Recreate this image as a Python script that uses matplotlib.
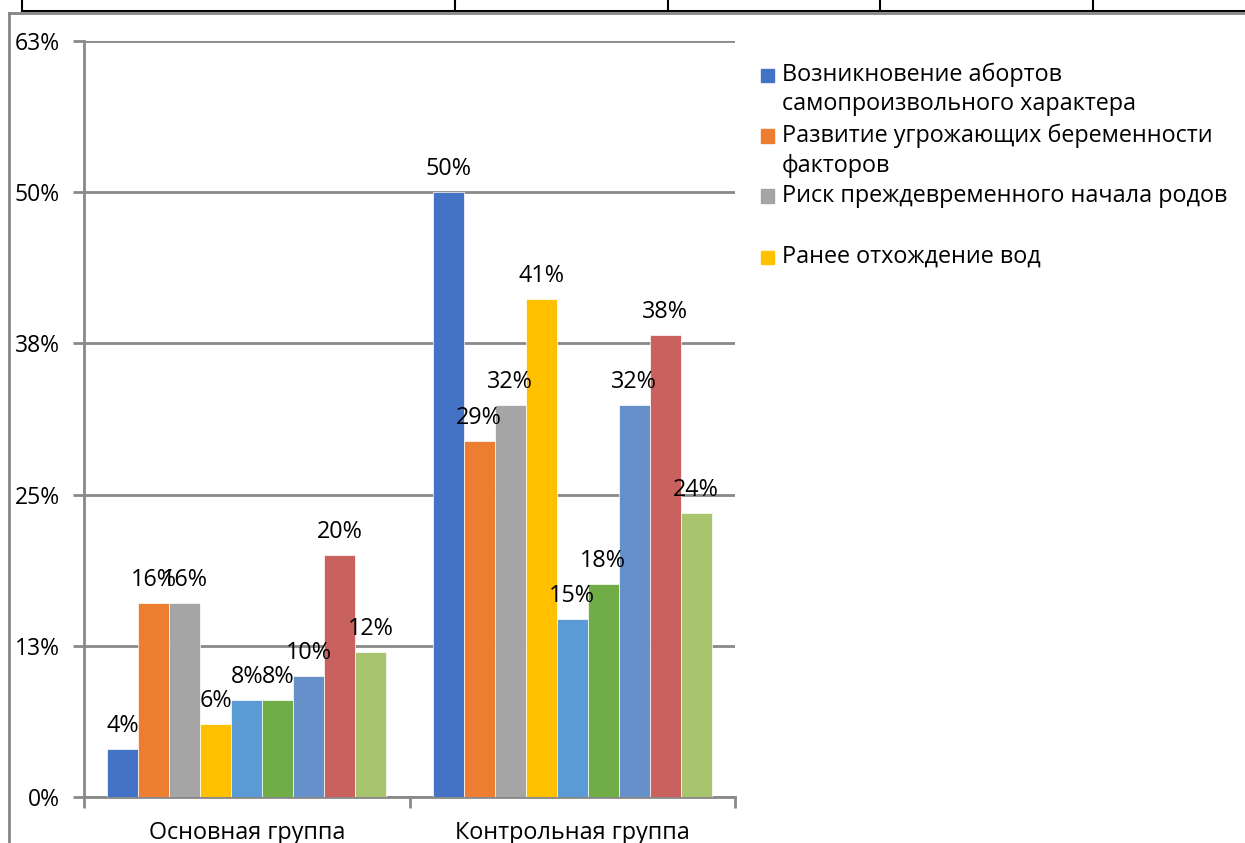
import matplotlib
matplotlib.use("Agg")
import matplotlib.pyplot as plt
from matplotlib.patches import Rectangle
from matplotlib.lines import Line2D

plt.rcParams['font.family'] = ['Open Sans', 'DejaVu Sans']

categories = ["Основная группа", "Контрольная группа"]
series_names = [
    "Возникновение абортов\nсамопроизвольного характера",
    "Развитие угрожающих беременности\nфакторов",
    "Риск преждевременного начала родов",
    "Ранее отхождение вод",
    "", "", "", "", "",
]
colors = ["#4472C4", "#ED7D31", "#A5A5A5", "#FFC000", "#5B9BD5",
          "#70AD47", "#6690C9", "#C9615F", "#A8C46C"]
# values (%) per series: [Основная, Контрольная]
s1 = [4, 50.0]
s2 = [16, 29.4]
s3 = [16, 32.4]
s4 = [6, 41.2]
s5 = [8, 14.7]
s6 = [8, 17.6]
s7 = [10, 32.4]
s8 = [20, 38.2]
s9 = [12, 23.5]
series = [s1, s2, s3, s4, s5, s6, s7, s8, s9]

yticks = [0, 12.5, 25, 37.5, 50, 62.5]
yticklabels = ["0%", "13%", "25%", "38%", "50%", "63%"]

W, H = 1245, 843
FS = 16.8
fig = plt.figure(figsize=(W / 100, H / 100), dpi=100)

def fx(px):
    return px / W

def fy(py):
    return 1 - py / H

ax = fig.add_axes([fx(84), fy(797), fx(735) - fx(84), fy(41) - fy(797)])
n = len(series)
bw = 1.0 / (n + 1.5)
grid_c = "#898989"
for i, vals in enumerate(series):
    xs = [c + (i - (n - 1) / 2) * bw for c in range(len(categories))]
    ax.bar(xs, vals, width=bw, color=colors[i], edgecolor="white",
           linewidth=0.5, zorder=3)
    for x, v in zip(xs, vals):
        ax.annotate(f"{round(v):.0f}%", (x, v), xytext=(0, 11),
                    textcoords="offset pixels", ha="center", va="bottom",
                    fontsize=FS, color="black", zorder=4)

ax.set_xlim(-0.5, len(categories) - 0.5)
ax.set_ylim(0, 62.5)
ax.set_yticks(yticks)
ax.set_yticklabels(yticklabels, fontsize=16.5)
ax.yaxis.grid(True, color=grid_c, linewidth=2, zorder=0)
ax.set_axisbelow(True)
ax.tick_params(axis="y", length=8, width=2, color=grid_c, pad=9.5)
ax.set_xticks([-0.5, 0.5, 1.5])
ax.set_xticklabels([])
ax.tick_params(axis="x", length=8, width=2, color=grid_c, direction="out")
for c, lab in enumerate(categories):
    ax.text(c, -0.032, lab, transform=ax.get_xaxis_transform(), ha="center",
            va="top", fontsize=FS)
for s in ["top", "right"]:
    ax.spines[s].set_visible(False)
ax.spines["left"].set_color(grid_c)
ax.spines["left"].set_linewidth(2)
ax.spines["bottom"].set_color(grid_c)
ax.spines["bottom"].set_linewidth(2)

# legend (only the first four series, as in the reference)
leg_rows = [75, 136, 196, 257]
for i, yy in enumerate(leg_rows):
    fig.patches.append(Rectangle((fx(761), fy(yy + 6.5)), fx(13), fy(yy - 6.5) - fy(yy + 6.5),
                                 transform=fig.transFigure, color=colors[i]))
    lines = series_names[i].split("\n")
    for k, ln in enumerate(lines):
        fig.text(fx(782), fy(yy + k * 29.5), ln, ha="left", va="center",
                 fontsize=FS)

# page frame: black table row at top and grey chart border
blk = "black"
fig.add_artist(Line2D([fx(22), fx(1245)], [fy(10.5), fy(10.5)], color=blk, lw=1.5,
                      transform=fig.transFigure))
for xv in [22, 455, 668, 880, 1093]:
    fig.add_artist(Line2D([fx(xv), fx(xv)], [fy(0), fy(10.5)], color=blk, lw=1.5,
                          transform=fig.transFigure))
fig.add_artist(Line2D([fx(8.5), fx(1245)], [fy(13), fy(13)], color="#868686", lw=2,
                      transform=fig.transFigure))
fig.add_artist(Line2D([fx(8.5), fx(8.5)], [fy(13), fy(843)], color="#868686", lw=2,
                      transform=fig.transFigure))

fig.savefig("out.png", dpi=100)
